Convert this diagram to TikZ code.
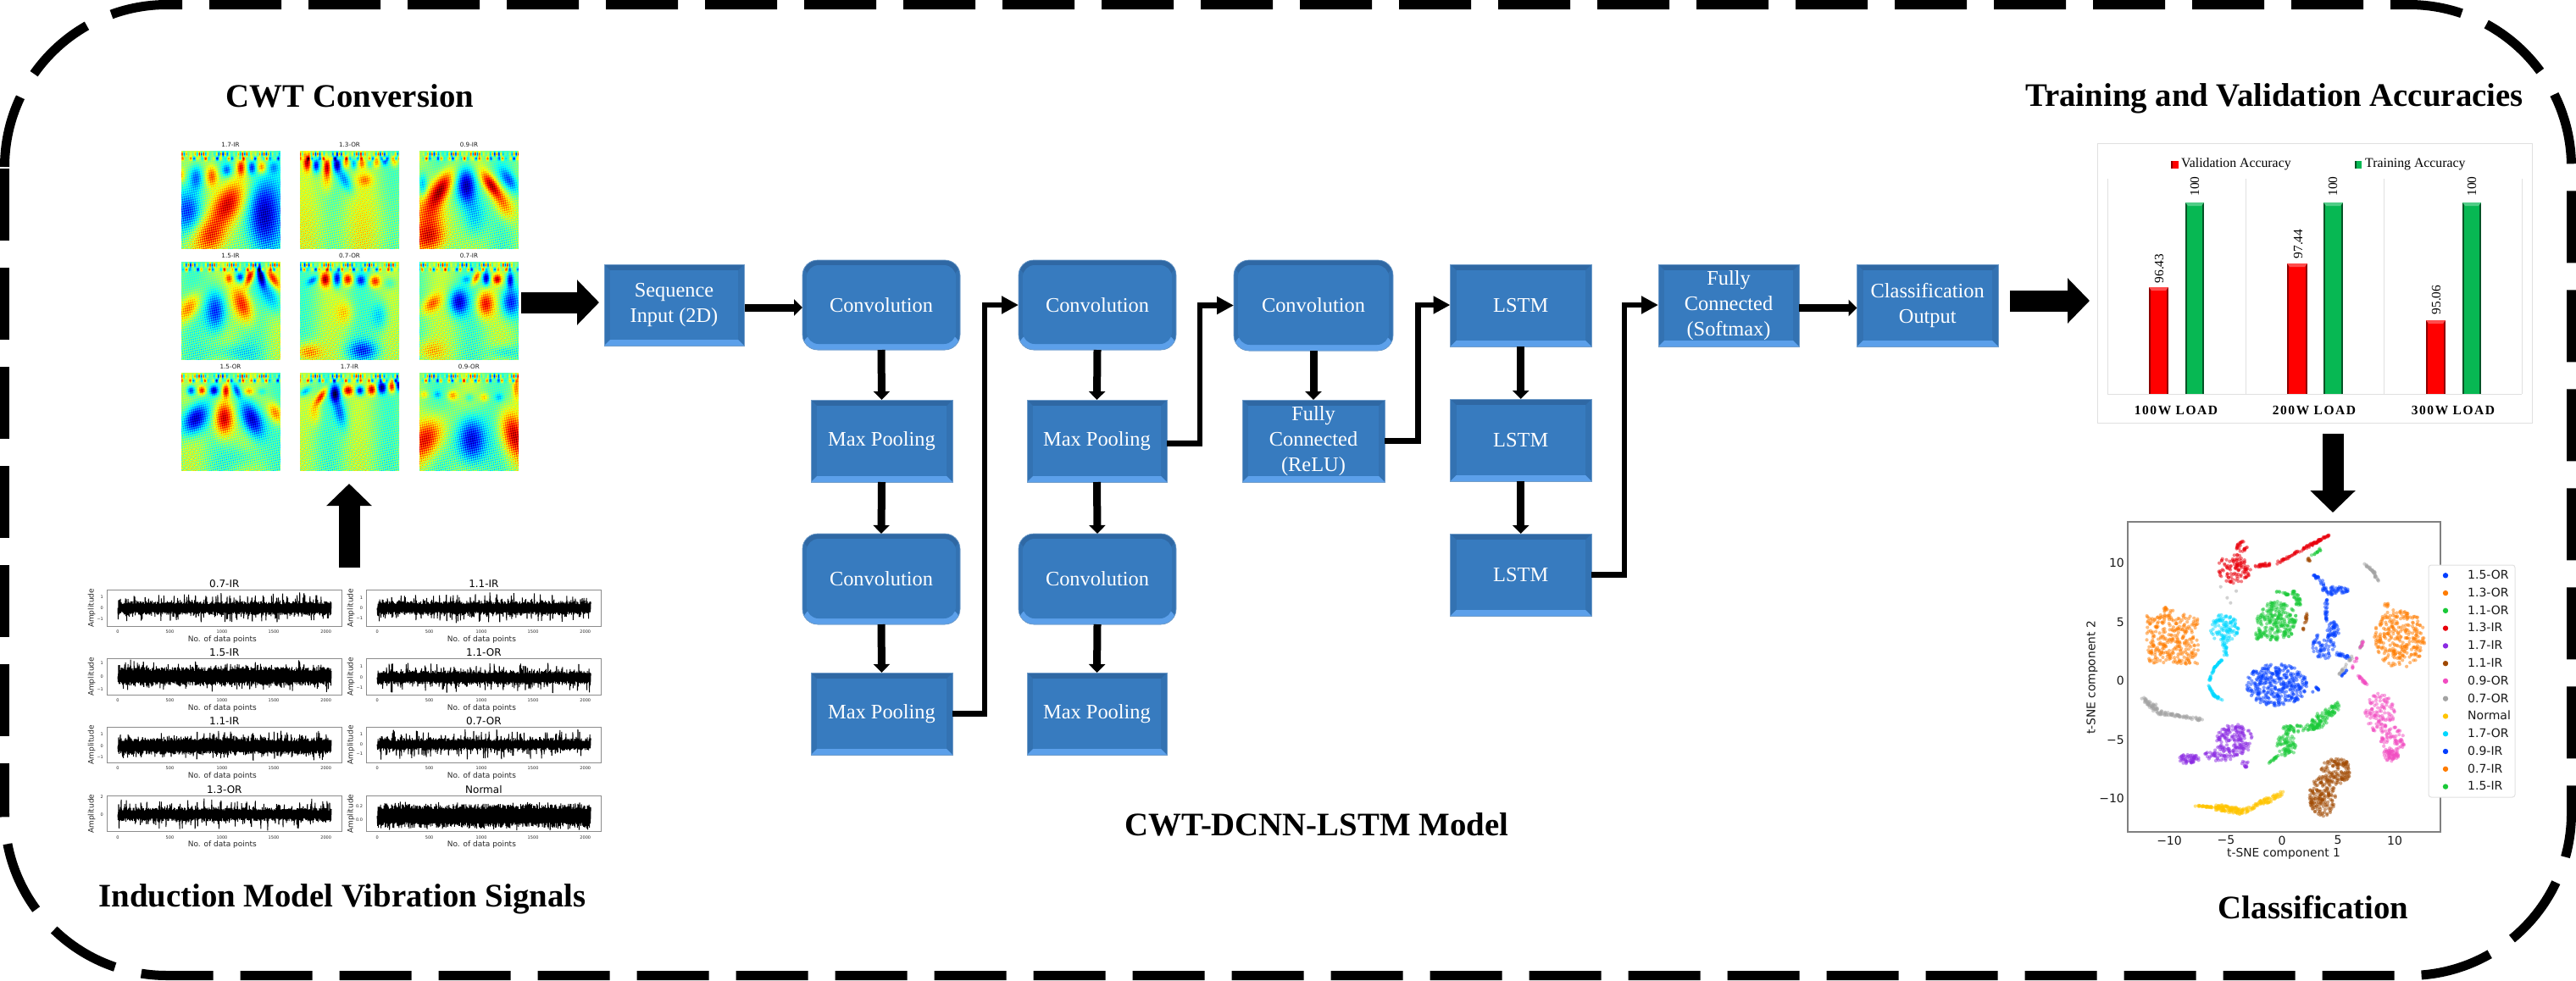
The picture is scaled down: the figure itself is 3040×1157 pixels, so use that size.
\documentclass[tikz,border=0pt]{standalone}
\usepackage{fontspec}
\setmainfont{Liberation Serif}
\newfontfamily\djv{DejaVu Sans}
\usetikzlibrary{arrows.meta,calc}
% ---------- heat map fields as PDF function shadings ----------
\def\HB#1#2#3#4#5#6{ 2 index #1 sub 2 index #2 sub #6 mul sub #3 1.2 mul div dup mul 2 index #2 sub #4 1.2 mul div dup mul add neg 2.718 exch exp #5 mul add }
\def\HHEAD{ 100 mul 116 div 100 exch sub exch 100 mul 117 div exch 0 }
\def\HNOISE{ 2 index 101 mul 2 index 61 mul add sin 3 index 67 mul 3 index 87 mul sub sin mul 2 index 0.0024 mul 0.06 add mul add }
\def\HTOP#1{ 2 index 6 mul #1 add sin 0.13 mul add 2 index 83 mul #1 add sin 3 index 17 mul #1 add cos 0.45 mul 0.55 add mul 2 index 3.5 sub 2.2 div dup mul neg 2.718 exch exp mul 0.75 mul add 2 index 47 mul #1 add sin 3 index 29 mul #1 add cos 0.45 mul 0.55 add mul 2 index 8 sub 2 div dup mul neg 2.718 exch exp mul 0.7 mul add }
\def\HCL{ dup abs add 2 div dup 1 sub abs neg add 1 add 2 div }
\def\HJET{ exch pop exch pop 1 add 2 div dup 4 mul 3 sub abs neg 1.5 add \HCL exch dup 4 mul 2 sub abs neg 1.5 add \HCL exch 4 mul 1 sub abs neg 1.5 add \HCL }
\newcommand\heatdef[3]{\pgfdeclarefunctionalshading{#1}{\pgfpointorigin}{\pgfpoint{117bp}{116bp}}{}{\HHEAD #3 \HNOISE \HTOP{#2} \HJET}}
\heatdef{hsA}{10}{\HB{46}{55}{13}{20}{0.95}{-0.3}\HB{30}{88}{15}{15}{0.6}{0}\HB{82}{65}{14}{32}{-0.95}{0}\HB{8}{62}{12}{20}{-0.75}{0}\HB{15}{27}{6}{11}{-0.6}{0}\HB{31}{26}{5}{9}{0.6}{0}\HB{46}{20}{4}{5}{-0.5}{0}\HB{60}{17}{3.5}{7}{0.7}{0}\HB{71}{17}{3.5}{6}{-0.7}{0}\HB{81}{17}{3.5}{5}{0.55}{0}\HB{93}{17}{4}{5}{-0.3}{0}\HB{0}{25}{3}{6}{0.4}{0}}
\heatdef{hsB}{70}{\HB{7}{12}{3}{7}{0.8}{0}\HB{16}{15}{3}{6}{-0.8}{0}\HB{27}{16}{3}{8}{0.9}{0}\HB{37}{14}{3}{6}{-0.8}{0}\HB{46}{12}{2.5}{5}{0.5}{0}\HB{54}{13}{2.5}{5}{-0.5}{0}\HB{62}{13}{2.5}{4}{0.4}{0}\HB{70}{13}{2.5}{4}{-0.3}{0}\HB{77}{12}{2.5}{4}{0.4}{0}\HB{85}{10}{2.5}{4}{-0.6}{0}\HB{95}{10}{3}{5}{0.5}{0}\HB{27}{30}{5}{10}{0.35}{0}\HB{45}{30}{5}{10}{-0.45}{0.4}\HB{65}{30}{6}{5}{0.35}{0}\HB{50}{80}{60}{40}{0.12}{0}}
\heatdef{hsC}{130}{\HB{22}{38}{8}{15}{0.95}{-0.4}\HB{13}{68}{14}{22}{0.6}{0}\HB{47}{35}{8}{15}{-0.97}{0}\HB{55}{65}{10}{20}{-0.45}{0}\HB{72}{35}{6}{11}{0.92}{0.5}\HB{85}{55}{8}{13}{0.55}{0.3}\HB{90}{30}{6}{10}{-0.5}{0.5}\HB{3}{35}{4}{10}{-0.5}{0}\HB{10}{90}{15}{12}{0.5}{0}}
\heatdef{hsD}{200}{\HB{48}{17}{3}{4}{0.5}{0}\HB{59}{16}{3.5}{4}{-0.7}{0}\HB{69}{15}{3.5}{8}{0.95}{-0.3}\HB{80}{14}{3}{9}{-0.9}{0.2}\HB{92}{17}{4}{8}{0.7}{0.5}\HB{90}{35}{8}{15}{-0.45}{0.4}\HB{62}{44}{8}{15}{0.75}{0.25}\HB{35}{50}{9}{18}{-0.75}{0}\HB{8}{47}{8}{12}{0.6}{-0.4}\HB{50}{92}{20}{8}{-0.25}{0}}
\heatdef{hsE}{260}{\HB{12.5}{19}{4}{4}{-0.5}{-0.6}\HB{25}{18}{4}{6}{0.85}{0}\HB{37}{17}{3.5}{7}{-0.9}{0}\HB{48}{18}{4}{5}{0.8}{0}\HB{61}{19}{4}{4.5}{-0.6}{0}\HB{75}{20}{4.5}{5}{0.7}{0}\HB{90}{22}{5}{5}{-0.25}{0}\HB{45}{52}{7}{10}{0.3}{0}\HB{80}{55}{7}{12}{-0.35}{0}\HB{63}{90}{13}{8}{-0.55}{0}\HB{8}{92}{11}{8}{0.55}{0}}
\heatdef{hsF}{320}{\HB{47}{18}{4}{3}{-0.3}{0}\HB{57}{16}{3}{6}{0.7}{-0.4}\HB{67}{17}{3}{6}{-0.9}{0}\HB{78}{18}{3.5}{4}{0.8}{0}\HB{91}{18}{3}{7}{-0.8}{0}\HB{12}{43}{7}{8}{0.5}{-0.5}\HB{39}{41}{8}{11}{-0.8}{0}\HB{66}{43}{7}{11}{0.75}{0}\HB{91}{41}{8}{13}{-0.75}{0}\HB{85}{92}{12}{6}{-0.3}{0}\HB{10}{90}{12}{8}{0.3}{0}}
\heatdef{hsG}{35}{\HB{10}{18}{3.5}{4}{-0.75}{0}\HB{21}{18}{3}{3.5}{0.7}{0}\HB{33}{18}{3.5}{4}{-0.8}{0}\HB{45}{18}{3}{6}{0.85}{0}\HB{56}{18}{3}{6}{-0.6}{0.3}\HB{68}{19}{3.5}{3}{0.4}{0}\HB{81}{19}{3.5}{3}{-0.25}{0}\HB{14}{47}{10}{13}{-0.97}{-0.3}\HB{43}{46}{8}{15}{0.97}{0}\HB{71}{47}{9}{16}{-0.97}{0.3}\HB{95}{41}{6}{9}{0.6}{0.3}\HB{65}{86}{15}{10}{-0.2}{0}}
\heatdef{hsH}{95}{\HB{5}{19}{4}{4}{-0.5}{-0.6}\HB{21}{24}{3.5}{7}{0.8}{-0.5}\HB{35}{21}{4}{7}{-0.95}{0}\HB{48}{18}{4}{4}{0.85}{0}\HB{60}{18}{3.5}{4}{-0.9}{0}\HB{72}{17}{3.5}{4.5}{0.85}{0}\HB{82}{15}{3.5}{5}{-0.95}{0}\HB{92}{14}{3}{5}{0.85}{0}\HB{99}{12}{2.5}{5}{-0.9}{0}\HB{40}{40}{5}{13}{-0.5}{0.2}\HB{15}{40}{5}{10}{0.3}{0}}
\heatdef{hsI}{155}{\HB{5}{22}{3}{3}{0.3}{0}\HB{18}{22}{3}{3}{-0.3}{0}\HB{33}{23}{4}{4}{0.45}{0}\HB{50}{25}{3.5}{3.5}{-0.25}{0}\HB{65}{25}{3.5}{3.5}{0.35}{0}\HB{80}{25}{3.5}{3.5}{-0.3}{0}\HB{97}{15}{3}{10}{0.45}{0}\HB{8}{67}{13}{18}{0.8}{-0.3}\HB{52}{68}{12}{20}{-0.92}{0}\HB{94}{63}{10}{20}{0.85}{0.2}}
% ---------- colours and styles ----------
\definecolor{blkmain}{HTML}{377BBF}
\definecolor{blkdark}{HTML}{2F68A4}
\definecolor{blkside}{HTML}{3372B2}
\definecolor{blklight}{HTML}{5CA0EA}
\definecolor{scblue}{HTML}{023EFF}
\definecolor{scorange}{HTML}{FF7C00}
\definecolor{scgreen}{HTML}{1AC938}
\definecolor{scred}{HTML}{E8000B}
\definecolor{scpurple}{HTML}{8B2BE2}
\definecolor{scbrown}{HTML}{9F4800}
\definecolor{scpink}{HTML}{F14CC1}
\definecolor{scgray}{HTML}{A3A3A3}
\definecolor{scyellow}{HTML}{FFC400}
\definecolor{sccyan}{HTML}{00D7FF}
\definecolor{barred}{HTML}{FF0000}
\definecolor{bargreen}{HTML}{07B853}
\tikzset{
  blocktext/.style={text=white,align=center,font=\fontsize{24.4}{30}\selectfont,inner sep=0pt,outer sep=0pt},
  blockbox/.style={blocktext,rectangle,fill=blkmain,draw=blkside!70!white,line width=.7pt,
    path picture={
      \def\pb{path picture bounding box}
      \fill[blkside] (\pb.south west) rectangle (\pb.north east);
      \fill[blkdark] (\pb.north west) -- (\pb.north east) -- ([xshift=-7pt,yshift=-7pt]\pb.north east) -- ([xshift=7pt,yshift=-7pt]\pb.north west) -- cycle;
      \fill[blklight] (\pb.south west) -- (\pb.south east) -- ([xshift=-7pt,yshift=7pt]\pb.south east) -- ([xshift=7pt,yshift=7pt]\pb.south west) -- cycle;
      \fill[blkmain] ([xshift=7pt,yshift=7pt]\pb.south west) rectangle ([xshift=-7pt,yshift=-7pt]\pb.north east);
    }},
  roundbox/.style={blocktext,rectangle,rounded corners=18pt,fill=blkmain,draw=blkside!70!white,line width=.7pt,
    path picture={
      \def\pb{path picture bounding box}
      \fill[blkside] (\pb.south west) rectangle (\pb.north east);
      \fill[blkdark] (\pb.north west) rectangle ([yshift=-20pt]\pb.north east);
      \fill[blklight] (\pb.south west) rectangle ([yshift=20pt]\pb.south east);
      \fill[blkmain,rounded corners=14pt] ([xshift=5pt,yshift=7pt]\pb.south west) rectangle ([xshift=-5pt,yshift=-6pt]\pb.north east);
    }},
  midarrow/.style={line width=9pt,-{Triangle[length=10pt,width=19pt]},black},
  elbowarrow/.style={line width=6.5pt,-{Triangle[length=20pt,width=20pt]},black},
  bigarrow/.style={line width=25pt,-{Triangle[length=26pt,width=52pt]},black},
  borderline/.style={line width=11pt,black,dash pattern=on 85pt off 32pt},
  titletext/.style={font=\fontsize{38.8}{40}\selectfont\bfseries,inner sep=0pt},
  heatlabel/.style={font=\djv\fontsize{7.2}{8}\selectfont,text=black!90,inner sep=0pt},
  sigframe/.style={draw=black!45,line width=.9pt},
  sigline/.style={black,line width=1pt,line join=bevel},
  sigtitle/.style={font=\djv\fontsize{12}{13}\selectfont,inner sep=0pt},
  siglabel/.style={font=\djv\fontsize{9}{10}\selectfont,inner sep=0pt,text=black!85},
  sigtick/.style={font=\djv\fontsize{5}{6}\selectfont,inner sep=0pt,text=black!85},
  gridline/.style={draw=black!12,line width=.9pt},
  valuetext/.style={font=\fontsize{15.4}{16}\selectfont,rotate=90,inner sep=0pt},
  legendtext/.style={font=\fontsize{15.8}{16}\selectfont,inner sep=0pt,anchor=west},
  cattext/.style={font=\addfontfeature{LetterSpace=10}\fontsize{15.5}{16}\selectfont\bfseries,inner sep=0pt},
  tsnetext/.style={font=\djv\fontsize{14}{15}\selectfont,inner sep=0pt,text=black!90},
  tsnelab/.style={font=\djv\fontsize{13.8}{15}\selectfont,inner sep=0pt,text=black!90},
}
% block from corners
\newcommand\blk[7][blockbox]{%
  \pgfmathsetmacro\bw{#5-#3}\pgfmathsetmacro\bh{#6-#4}%
  \pgfmathsetmacro\bx{(#3+#5)/2}\pgfmathsetmacro\by{(#4+#6)/2}%
  \node[#1,minimum width=\bw pt,minimum height=\bh pt] (#2) at (\bx,\by) {#7};}
% heat map
\newcommand\heat[5]{%
  \node[inner sep=0pt,outer sep=0pt,anchor=north west] (#1) at (#3,#4) {\pgfuseshading{#2}};
  \node[heatlabel,anchor=center] (#1lab) at ([yshift=6.6pt]#1.north) {#5};}
% signal plot
\newcommand\sigplot[9]{%
  \begin{scope}
  \draw[sigframe] (#1,#2) rectangle (#1+276.4,#3);
  \pgfmathsetmacro\sx{#1+12.4}%
  \draw[sigline] (\sx,#4) foreach \k in {1,...,500}{ -- ({\sx+\k*.504},{#4+(2*mod(\k,2)-1)*(#5*(.55+.45*rnd)+#6*pow(rnd,6))}) };
  \foreach \t/\u in {0/0,500/61.5,1000/123,1500/184,2000/245.7}{\node[sigtick] at ({\sx+\u},#3+6.7) {\t};}
  \node[sigtitle] (#8) at (#1+138.2,#2-7.7) {#7};
  \node[siglabel] at (#1+135.7,#3+15.7) {No. of data points};
  \node[siglabel,rotate=90] at (#1-18.5,{(#2+#3)/2}) {Amplitude};
  \foreach \v/\lab in {#9}{\node[sigtick,anchor=east] at (#1-4.5,\v) {\lab};}
  \end{scope}}
% scatter helpers (coordinates in the scope units)
\newcommand\cloud[7]{%
  \pgfmathtruncatemacro\cn{#2*1.25}%
  \foreach \k in {1,...,\cn}{%
    \pgfmathsetmacro\rr{sqrt(rnd)}\pgfmathsetmacro\th{360*rnd}%
    \pgfmathsetmacro\ax{#5*\rr*cos(\th)}\pgfmathsetmacro\ay{#6*\rr*sin(\th)}%
    \fill[#1,opacity=.5] ({#3+\ax*cos(#7)-\ay*sin(#7)},{#4+\ax*sin(#7)+\ay*cos(#7)}) circle (2.1pt);}}
\newcommand\boxcloud[6]{%
  \pgfmathtruncatemacro\cn{#2*1.25}%
  \foreach \k in {1,...,\cn}{%
    \fill[#1,opacity=.5] ({#3+(#5-#3)*rnd},{#4+(#6-#4)*rnd}) circle (2.1pt);}}
\newcommand\chainpts[7]{%
  \pgfmathtruncatemacro\cn{#2*1.5}%
  \foreach \k in {1,...,\cn}{%
    \pgfmathsetmacro\tt{rnd}%
    \fill[#1,opacity=.5] ({#3+(#5-#3)*\tt+#7*(2*rnd-1)},{#4+(#6-#4)*\tt+#7*(2*rnd-1)}) circle (2.1pt);}}
\newcommand\barcol[6]{%
  \fill[#4] (#1,#3) rectangle (#2,465);
  \fill[#5] (#1,#3) rectangle (#1+1.6,465);
  \fill[#5] (#2-1.8,#3) rectangle (#2,465);
  \fill[#6] (#1,#3) -- (#2,#3) -- (#2-3,#3+4) -- (#1+3,#3+4) -- cycle;}
\begin{document}
\begin{tikzpicture}[x=1pt,y=-1pt]
\useasboundingbox (0,0) rectangle (3040,1157);
\pgfmathsetseed{42}
% dashed frame
\draw[borderline] (5.5,197) .. controls (5.5,91.2) and (91.2,5.5) .. (197,5.5) -- (2843,5.5)
   .. controls (2948.8,5.5) and (3034.5,91.2) .. (3034.5,197) -- (3034.5,960)
   .. controls (3034.5,1065.8) and (2948.8,1151.5) .. (2843,1151.5) -- (197,1151.5)
   .. controls (91.2,1151.5) and (5.5,1065.8) .. (5.5,960);
\draw[borderline] (5.5,199) -- (5.5,960);
% titles
\node[titletext] (tcwt) at (413,113) {CWT Conversion};
\node[titletext] (tsig) at (404,1061) {Induction Model Vibration Signals};
\node[titletext] (tmod) at (1554,973) {CWT-DCNN-LSTM Model};
\node[titletext] (tacc) at (2684,116) {Training and Validation Accuracies};
\node[titletext] (tcla) at (2730,1071) {Classification};
% heat maps
\heat{hmA}{hsA}{213.3}{177.3}{1.7-IR}
\heat{hmB}{hsB}{353.8}{177.3}{1.3-OR}
\heat{hmC}{hsC}{494.7}{177.3}{0.9-IR}
\heat{hmD}{hsD}{213.3}{308.3}{1.5-IR}
\heat{hmE}{hsE}{353.8}{308.3}{0.7-OR}
\heat{hmF}{hsF}{494.7}{308.3}{0.7-IR}
\heat{hmG}{hsG}{213.3}{439.5}{1.5-OR}
\heat{hmH}{hsH}{353.8}{439.5}{1.7-IR}
\heat{hmI}{hsI}{494.7}{439.5}{0.9-OR}
% signal plots
\sigplot{126.6}{696.7}{739}{717.7}{8}{11}{0.7-IR}{sA}{704.3/1,717.7/0,730.3/−1}
\sigplot{432.7}{696.7}{739}{717.7}{8}{11}{1.1-IR}{sB}{706/1,717.7/0,729.3/−1}
\sigplot{126.6}{777.7}{820}{798.3}{11}{9}{1.5-IR}{sC}{782.7/1,798.3/0,814/−1}
\sigplot{432.7}{777.7}{820}{799.7}{8}{11}{1.1-OR}{sD}{786.7/1,799.7/0,812/−1}
\sigplot{126.6}{858.7}{900.3}{880.7}{10}{9}{1.1-IR}{sE}{866.7/1,880.7/0,894/−1}
\sigplot{432.7}{858.7}{900.3}{878.7}{7}{12}{0.7-OR}{sF}{867/1,878.7/0,890/−1}
\sigplot{126.6}{939.7}{981.7}{961.3}{8}{12}{1.3-OR}{sG}{940.7/2,961.3/0}
\sigplot{432.7}{939.7}{981.7}{963}{14}{4}{Normal}{sH}{952/0.2,967.3/0.0}
% network blocks
\blk{seq}{713}{312}{878}{408}{Sequence\\Input (2D)}
\blk[roundbox]{convA}{947}{307}{1133}{413}{Convolution}
\blk{poolA}{957}{472}{1124}{569}{Max Pooling}
\blk[roundbox]{convB}{947}{630}{1133}{737}{Convolution}
\blk{poolB}{957}{794}{1124}{891}{Max Pooling}
\blk[roundbox]{convC}{1202}{307}{1388}{413}{Convolution}
\blk{poolC}{1212}{472}{1377}{569}{Max Pooling}
\blk[roundbox]{convD}{1202}{630}{1388}{737}{Convolution}
\blk{poolD}{1212}{794}{1377}{891}{Max Pooling}
\blk[roundbox]{convE}{1456}{307}{1644}{414}{Convolution}
\blk{fcA}{1466}{472}{1634}{569}{Fully\\Connected\\(ReLU)}
\blk{lstmA}{1711.5}{312}{1878}{409}{LSTM}
\blk{lstmB}{1711.5}{471}{1878}{568}{LSTM}
\blk{lstmC}{1711.5}{630}{1878}{727}{LSTM}
\blk{fcB}{1957}{312}{2123}{409}{Fully\\Connected\\(Softmax)}
\blk{out}{2191.5}{312}{2358}{409}{Classification\\Output}
% connectors
\draw[midarrow] ([yshift=-3pt,xshift=1pt]seq.east) -- ([yshift=-3pt]convA.west);
\draw[midarrow] (convA.south) -- (poolA.north);
\draw[midarrow] (poolA.south) -- (convB.north);
\draw[midarrow] (convB.south) -- (poolB.north);
\draw[midarrow] (convC.south) -- (poolC.north);
\draw[midarrow] (poolC.south) -- (convD.north);
\draw[midarrow] (convD.south) -- (poolD.north);
\draw[midarrow] (convE.south) -- (fcA.north);
\draw[midarrow] (lstmA.south) -- (lstmB.north);
\draw[midarrow] (lstmB.south) -- (lstmC.north);
\draw[midarrow] ([yshift=-3pt]fcB.east) -- ([yshift=-3pt]out.west);
\draw[elbowarrow] (poolB.east) -- ++(38,0) |- ([yshift=0pt]convC.west);
\draw[elbowarrow] ([yshift=-3pt]poolC.east) -- ++(39,0) |- (convE.west);
\draw[elbowarrow] (fcA.east) -- ++(39.5,0) |- ([yshift=0.5pt]lstmA.west);
\draw[elbowarrow] (lstmC.east) -- ++(39,0) |- ([yshift=0.5pt]fcB.west);
% heavy flow arrows
\coordinate (cwtout) at (615,357);
\coordinate (seqin) at (707,357);
\draw[bigarrow] (cwtout) -- (seqin);
\coordinate (sigout) at (412,670);
\coordinate (cwtin) at (412,571);
\draw[bigarrow] (sigout) -- (cwtin);
\coordinate (barfrom) at (2372,355);
\coordinate (barin) at (2466,355);
\draw[bigarrow] (barfrom) -- (barin);
\coordinate (barout) at (2753,512);
\coordinate (tsnein) at (2753,605);
\draw[bigarrow] (barout) -- (tsnein);
% bar chart
\draw[draw=black!12,line width=1pt] (2475,169) rectangle (2988,499);
\foreach \gx in {2487,2650,2813,2976}{\draw[gridline] (\gx,211) -- (\gx,465);}
\draw[gridline] (2487,465) -- (2976,465);
\barcol{2536}{2559}{339}{barred}{barred!55!black}{barred!70!white}
\barcol{2579}{2601}{239}{bargreen}{bargreen!45!black}{bargreen!70!white}
\barcol{2699}{2723}{311}{barred}{barred!55!black}{barred!70!white}
\barcol{2742}{2765}{239}{bargreen}{bargreen!45!black}{bargreen!70!white}
\barcol{2863}{2886}{378}{barred}{barred!55!black}{barred!70!white}
\barcol{2906}{2928}{239}{bargreen}{bargreen!45!black}{bargreen!70!white}
\node[valuetext] (vA) at (2548,317) {96.43};
\node[valuetext] (vB) at (2590,220) {100};
\node[valuetext] (vC) at (2712,288) {97.44};
\node[valuetext] (vD) at (2753,220) {100};
\node[valuetext] (vE) at (2875,354) {95.06};
\node[valuetext] (vF) at (2917,220) {100};
\fill[barred] (2562,190) rectangle (2571,198.5);
\fill[barred!55!black] (2562,190) rectangle (2563.5,198.5);
\node[legendtext] (lgA) at (2574,194) {Validation Accuracy};
\fill[bargreen] (2779,190) rectangle (2787,198.5);
\fill[bargreen!45!black] (2779,190) rectangle (2780.5,198.5);
\node[legendtext] (lgB) at (2791,194) {Training Accuracy};
\node[cattext] (cA) at (2568,484) {100W LOAD};
\node[cattext] (cB) at (2731,484) {200W LOAD};
\node[cattext] (cC) at (2895,484) {300W LOAD};
% t-SNE
\draw[draw=black!50,line width=1.4pt] (2511,616) rectangle (2880,982);
\foreach \tx/\tl in {2560/−10,2627/−5,2693/0,2759/5,2826/10}{
  \node[tsnetext,anchor=north] at (\tx,986.5) {\tl};}
\foreach \ty/\tl in {664/10,734/5,803/0,873/−5,942/−10}{
  \node[tsnetext,anchor=east] at (2507,\ty) {\tl};}
\node[tsnelab] (xlab) at (2695,1008) {t-SNE component 1};
\node[tsnelab,rotate=90] (ylab) at (2469,800) {t-SNE component 2};
\begin{scope}[shift={(2470,590)},x=.33333pt,y=-.33333pt]
  % red 1.3-IR
  \cloud{scred}{90}{500}{245}{58}{52}{0}
  \cloud{scred}{20}{527}{165}{22}{24}{0}
  \chainpts{scred}{18}{570}{235}{630}{228}{5}
  \chainpts{scred}{60}{650}{225}{835}{125}{4}
  \chainpts{scgreen}{8}{775}{200}{805}{175}{3}
  \cloud{scbrown}{6}{765}{212}{6}{8}{0}
  % gray
  \chainpts{scgray}{14}{962}{228}{995}{258}{4}
  \chainpts{scgray}{10}{995}{258}{1008}{290}{4}
  \fill[scgray,opacity=.5] (452,308) circle (2.1pt) (475,347) circle (2.1pt) (507,323) circle (2.1pt) (487,365) circle (2.1pt);
  % blue 1.5-OR
  \chainpts{scblue}{14}{780}{265}{820}{300}{5}
  \cloud{scblue}{42}{855}{322}{50}{15}{0}
  \chainpts{scblue}{16}{825}{340}{825}{430}{5}
  \cloud{scblue}{32}{850}{460}{22}{30}{0}
  \cloud{scblue}{50}{815}{520}{40}{48}{0}
  \chainpts{scblue}{15}{860}{545}{915}{560}{6}
  \chainpts{scblue}{6}{900}{600}{880}{622}{4}
  \chainpts{scgray}{12}{918}{555}{868}{622}{4}
  \chainpts{scgray}{7}{945}{525}{958}{500}{4}
  % green 1.1-OR
  \cloud{scgreen}{190}{650}{430}{72}{70}{-20}
  \chainpts{scgreen}{10}{650}{325}{690}{335}{3}
  \cloud{scgreen}{28}{720}{350}{12}{30}{-20}
  \cloud{scgreen}{15}{590}{480}{18}{16}{0}
  \chainpts{scbrown}{8}{755}{405}{752}{435}{4}
  \chainpts{scbrown}{3}{745}{455}{745}{465}{2}
  % orange left
  \boxcloud{scorange}{240}{190}{405}{372}{582}
  \cloud{scorange}{10}{265}{390}{20}{12}{0}
  % cyan
  \cloud{sccyan}{90}{465}{455}{50}{52}{0}
  \chainpts{sccyan}{12}{465}{510}{470}{550}{7}
  \chainpts{sccyan}{14}{458}{565}{430}{595}{2}
  \chainpts{sccyan}{12}{430}{595}{412}{640}{2}
  \chainpts{sccyan}{10}{412}{660}{425}{690}{3}
  \chainpts{sccyan}{12}{425}{690}{458}{710}{3}
  % blue centre
  \cloud{scblue}{280}{650}{655}{108}{75}{0}
  \chainpts{scblue}{6}{790}{665}{800}{675}{3}
  \fill[scblue,opacity=.6] (778,680) circle (2.1pt);
  % orange right
  \cloud{scorange}{230}{1085}{490}{90}{105}{0}
  \cloud{scorange}{6}{1042}{372}{12}{8}{0}
  % gray lower-left
  \chainpts{scgray}{40}{175}{705}{240}{755}{10}
  \chainpts{scgray}{40}{240}{755}{385}{778}{5}
  % purple
  \cloud{scpurple}{130}{500}{850}{65}{55}{0}
  \cloud{scpurple}{45}{340}{918}{35}{18}{0}
  \cloud{scpurple}{40}{450}{900}{55}{25}{0}
  \cloud{scpurple}{10}{540}{935}{15}{12}{0}
  % green lower
  \chainpts{scgreen}{10}{620}{935}{660}{900}{3}
  \cloud{scgreen}{60}{685}{868}{35}{40}{0}
  \chainpts{scgreen}{40}{680}{815}{800}{800}{12}
  \chainpts{scgreen}{70}{780}{800}{860}{730}{18}
  % pink
  \chainpts{scpink}{6}{918}{595}{935}{560}{3}
  \chainpts{scpink}{15}{938}{622}{975}{660}{3}
  \cloud{scpink}{90}{1015}{755}{52}{70}{0}
  \cloud{scpink}{70}{1060}{860}{42}{60}{0}
  \cloud{scpink}{30}{1055}{905}{25}{22}{0}
  \chainpts{scpink}{5}{945}{525}{955}{505}{3}
  % yellow
  \chainpts{scyellow}{25}{360}{1083}{440}{1090}{2}
  \chainpts{scyellow}{70}{440}{1090}{540}{1105}{11}
  \chainpts{scyellow}{50}{540}{1100}{672}{1040}{8}
  % brown
  \cloud{scbrown}{100}{860}{960}{52}{48}{0}
  \cloud{scbrown}{130}{812}{1050}{46}{72}{0}
\end{scope}
% t-SNE legend
\fill[white] (2866,667) rectangle (2968,941);
\draw[draw=black!12,rounded corners=3pt,line width=1pt] (2866,667) rectangle (2968,941);
\foreach \n/\c/\lab in {0/scblue/1.5-OR,1/scorange/1.3-OR,2/scgreen/1.1-OR,3/scred/1.3-IR,4/scpurple/1.7-IR,5/scbrown/1.1-IR,6/scpink/0.9-OR,7/scgray/0.7-OR,8/scyellow/Normal,9/sccyan/1.7-OR,10/scblue/0.9-IR,11/scorange/0.7-IR,12/scgreen/1.5-IR}{
  \fill[\c] (2886,679.3+\n*20.77) circle (3.2pt);
  \node[tsnetext,anchor=west] at (2912,678.5+\n*20.77) {\lab};}
\end{tikzpicture}
\end{document}
